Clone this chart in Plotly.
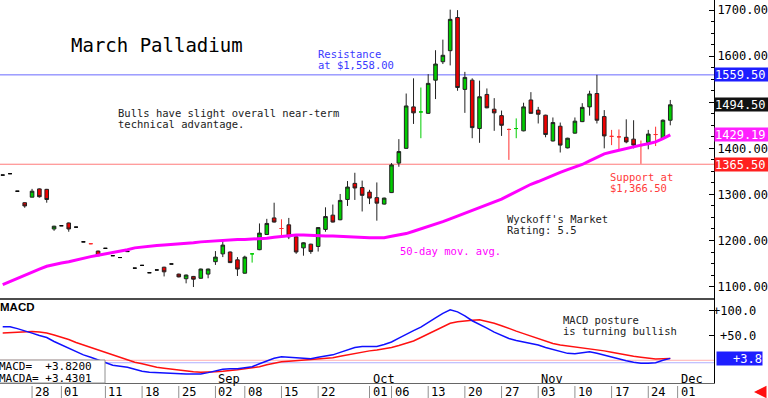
import plotly.graph_objects as go

# ---------------- data ----------------
day_idx = list(range(92))

opens = [1342, 1345, 1307, 1282, 1294, 1312, 1311, 1225, 1232, 1238,
         1229, 1197, 1193, 1177, 1183, 1167, 1163, 1176, 1140, 1146,
         1130, 1136, 1142, 1149, 1127, 1117, 1122, 1118, 1127, 1154,
         1171, 1175, 1158, 1129, 1171, 1180, 1213, 1249, 1226, 1234,
         1208, 1184, 1192, 1187, 1224, 1255, 1245, 1289, 1324, 1315,
         1305, 1293, 1279, 1304, 1368, 1400, 1490, 1479, 1476, 1548,
         1588, 1612, 1684, 1528, 1548, 1443, 1517, 1485, 1471, 1441,
         1443, 1438, 1505, 1483, 1472, 1416, 1448, 1401, 1433, 1458,
         1490, 1519, 1469, 1426, 1425, 1424, 1420, 1406, 1413, 1430,
         1422, 1461]
highs = [1342, 1345, 1307, 1283, 1312, 1313, 1312, 1232, 1232, 1239,
         1229, 1197, 1194, 1178, 1183, 1167, 1163, 1176, 1140, 1146,
         1130, 1136, 1143, 1149, 1128, 1126, 1123, 1139, 1139, 1177,
         1200, 1176, 1164, 1167, 1172, 1237, 1247, 1282, 1246, 1249,
         1209, 1196, 1193, 1229, 1272, 1278, 1301, 1329, 1347, 1330,
         1310, 1326, 1293, 1368, 1420, 1519, 1552, 1532, 1561, 1613,
         1636, 1701, 1700, 1566, 1552, 1547, 1530, 1509, 1482, 1443,
         1465, 1499, 1522, 1490, 1473, 1467, 1456, 1423, 1467, 1498,
         1525, 1559.5, 1483, 1440, 1441, 1463, 1461, 1417, 1440, 1447,
         1463, 1505]
lows = [1342, 1345, 1307, 1271, 1294, 1293, 1282, 1221, 1232, 1219,
        1229, 1197, 1192, 1166, 1183, 1167, 1163, 1176, 1140, 1146,
        1130, 1136, 1122, 1149, 1120, 1107, 1099, 1117, 1118, 1147,
        1164, 1151, 1123, 1128, 1152, 1179, 1212, 1239, 1207, 1203,
        1171, 1167, 1171, 1176, 1219, 1239, 1244, 1275, 1288, 1263,
        1279, 1243, 1278, 1303, 1360, 1399, 1453, 1422, 1475, 1507,
        1583, 1580, 1525, 1477, 1422, 1412, 1487, 1438, 1427, 1375,
        1422, 1437, 1475, 1454, 1424, 1415, 1391, 1400, 1432, 1457,
        1471, 1454, 1400, 1407, 1394, 1411, 1400, 1366.5, 1398, 1405,
        1420, 1450]
closes = [1342, 1345, 1307, 1275, 1307, 1295, 1289, 1231, 1232, 1225,
          1229, 1197, 1193, 1167, 1183, 1167, 1163, 1176, 1140, 1146,
          1130, 1136, 1132, 1149, 1121, 1125, 1116, 1138, 1138, 1164,
          1190, 1152, 1138, 1164, 1171, 1216, 1237, 1240, 1226, 1208,
          1175, 1195, 1176, 1228, 1252, 1240, 1287, 1316, 1314, 1298,
          1292, 1281, 1292, 1364, 1393, 1492, 1477, 1479, 1541, 1583,
          1602, 1680, 1532, 1554, 1445, 1512, 1488, 1477, 1450, 1441,
          1443, 1490, 1476, 1474, 1430, 1456, 1407, 1422, 1459, 1489,
          1518, 1461, 1427, 1426, 1425, 1414, 1407, 1406, 1431, 1430,
          1461, 1494.5]

ma50 = [1104, 1111, 1118, 1124, 1131, 1138, 1144, 1148, 1151, 1154,
        1158, 1161, 1165, 1168, 1171, 1173, 1176, 1180, 1184, 1186,
        1188, 1189, 1190, 1191, 1193, 1194, 1195, 1197, 1198, 1200,
        1201, 1201, 1202, 1202, 1203, 1203, 1205, 1207, 1209, 1211,
        1212, 1212, 1211, 1211, 1210, 1210, 1209, 1209, 1208, 1207,
        1206, 1206, 1206, 1209, 1212, 1215, 1220, 1225, 1230, 1236,
        1241, 1247, 1253, 1260, 1266, 1272, 1278, 1284, 1290, 1298,
        1306, 1314, 1322, 1328, 1335, 1341, 1348, 1354, 1359, 1365,
        1373, 1380, 1388, 1392, 1396, 1400, 1403, 1407, 1410, 1414,
        1421, 1429.19]

macd = [68, 68, 64, 60, 55, 50, 46, 38, 31, 24,
        17, 11, 6, 1, -5, -10, -12, -14, -18, -22,
        -24, -25, -26, -27, -28, -28, -28, -28, -25, -21,
        -18, -17, -17, -15, -13, -7, -1, 4, 7, 6,
        5, 3, 3, 6, 9, 11, 16, 21, 26, 28,
        28, 28, 32, 37, 45, 53, 60, 67, 77, 86,
        95, 102, 98, 90, 80, 73, 65, 57, 50, 44,
        40, 37, 34, 31, 26, 22, 17, 14, 13, 15,
        17, 14, 10, 6, 2, -1, -4, -6, -6, -5,
        0, 3.82]
macd_signal = [55, 56, 57, 58, 58, 57, 55, 51, 47, 42,
               36, 31, 26, 21, 16, 11, 6, 1, -4, -7,
               -11, -14, -16, -18, -20, -21, -23, -24, -24, -23,
               -22, -21, -19, -17, -15, -13, -9, -6, -3, -2,
               -1, 0, 1, 2, 4, 5, 8, 11, 14, 17,
               19, 21, 23, 26, 30, 34, 39, 46, 53, 60,
               68, 75, 78, 80, 81, 82, 79, 75, 70, 64,
               59, 54, 49, 44, 39, 34, 31, 29, 27, 25,
               24, 22, 19, 16, 13, 10, 8, 6, 4, 2.5,
               3, 3.4301]

resistance = 1559.50
support = 1365.50

price_ticks = [1100, 1200, 1300, 1400, 1500, 1600, 1700]
date_tick_idx = [4, 8, 14, 19, 24, 29, 33, 38, 43, 50, 53, 58, 63, 68, 73, 78, 83, 88, 92]
date_tick_lbl = ["28", "01", "11", "18", "25", "02", "08", "15", "22", "01",
                 "06", "13", "20", "27", "03", "10", "17", "24", "01"]
month_idx = [29, 50, 73, 92]
month_lbl = ["Sep", "Oct", "Nov", "Dec"]

# ---------------- layout constants ----------------
W, H = 768, 398
PLOT_R = 714            # right edge of plot area (px)
SEP_Y = 299             # separator between price and MACD panels (px)
MACD_BOT = 383          # bottom of MACD panel (px)
MONO = "DejaVu Sans Mono"
GREEN, RED = "#00cc00", "#ee0000"


def px_x(p):
    return p / W


def px_y(p):
    return 1 - p / H


xr = [-0.37, 96.96]

# ---------------- split candles ----------------
groups = {"main": [], "flat": [], "up": [], "down": []}
prev_dir = True
for i in day_idx:
    o, h, l, c = opens[i], highs[i], lows[i], closes[i]
    if h == l:
        groups["flat"].append(i)
        continue
    if o == c:
        pc = closes[i - 1] if i > 0 else c
        if c != pc:
            prev_dir = c > pc
        groups["up" if prev_dir else "down"].append(i)
    else:
        prev_dir = c > o
        groups["main"].append(i)


def candle(ids, inc_fill, dec_fill, inc_line, dec_line):
    return go.Candlestick(
        x=ids,
        open=[opens[i] for i in ids], high=[highs[i] for i in ids],
        low=[lows[i] for i in ids], close=[closes[i] for i in ids],
        increasing=dict(fillcolor=inc_fill, line=dict(color=inc_line, width=1)),
        decreasing=dict(fillcolor=dec_fill, line=dict(color=dec_line, width=1)),
        whiskerwidth=0, showlegend=False, hoverinfo="skip",
        xaxis="x", yaxis="y")


fig = go.Figure()
fig.add_trace(candle(groups["main"], GREEN, RED, "#222222", "#222222"))
fig.add_trace(candle(groups["flat"], "#000000", "#000000", "#000000", "#000000"))
fig.add_trace(candle(groups["up"], GREEN, GREEN, GREEN, GREEN))
fig.add_trace(candle(groups["down"], RED, RED, "#ff3030", "#ff3030"))

fig.add_trace(go.Scatter(x=day_idx, y=ma50, mode="lines",
                         line=dict(color="#ff00ff", width=3),
                         showlegend=False, hoverinfo="skip", xaxis="x", yaxis="y"))

fig.add_trace(go.Scatter(x=day_idx, y=macd_signal, mode="lines",
                         line=dict(color="#ff1010", width=1.5),
                         showlegend=False, hoverinfo="skip", xaxis="x2", yaxis="y2"))
fig.add_trace(go.Scatter(x=day_idx, y=macd, mode="lines",
                         line=dict(color="#1010ff", width=1.5),
                         showlegend=False, hoverinfo="skip", xaxis="x2", yaxis="y2"))

shapes = [
    dict(type="line", xref="paper", yref="y", x0=0, x1=px_x(PLOT_R), y0=resistance, y1=resistance,
         line=dict(color="#6a6aff", width=1), layer="below"),
    dict(type="line", xref="paper", yref="y", x0=0, x1=px_x(PLOT_R), y0=support, y1=support,
         line=dict(color="#ff7a7a", width=1), layer="below"),
    dict(type="line", xref="paper", yref="y2", x0=0, x1=px_x(PLOT_R), y0=0, y1=0,
         line=dict(color="#ffb0b0", width=1), layer="below"),
    dict(type="line", xref="paper", yref="y2", x0=0, x1=px_x(PLOT_R), y0=-5, y1=-5,
         line=dict(color="#b0b0ff", width=1), layer="below"),
    dict(type="line", xref="paper", yref="paper", x0=0, x1=px_x(PLOT_R),
         y0=px_y(SEP_Y), y1=px_y(SEP_Y), line=dict(color="#111111", width=1.5)),
    dict(type="rect", xref="paper", yref="paper", x0=-0.003, x1=px_x(105),
         y0=px_y(MACD_BOT), y1=px_y(360), fillcolor="white",
         line=dict(color="#909090", width=1), layer="above"),
]
for t in date_tick_idx:
    shapes.append(dict(type="line", xref="x2", yref="paper", x0=t, x1=t,
                       y0=0, y1=px_y(386), line=dict(color="#909090", width=1)))

ann = []


def txt(x, y, s, size=10.5, color="black", xa="left", ya="middle", xref="paper", yref="paper", **kw):
    ann.append(dict(x=x, y=y, xref=xref, yref=yref, text=s, showarrow=False,
                    xanchor=xa, yanchor=ya, font=dict(family=MONO, size=size, color=color), **kw))


txt(px_x(69), px_y(45), "March Palladium", size=19)
txt(px_x(316), px_y(54), "Resistance", color="#3a3aff")
txt(px_x(316), px_y(64.5), "at $1,558.00", color="#3a3aff")
txt(px_x(116), px_y(113), "Bulls have slight overall near-term", color="#222222")
txt(px_x(116), px_y(124), "technical advantage.", color="#222222")
txt(px_x(608), px_y(176.5), "Support at", color="#ff3a3a")
txt(px_x(608), px_y(187.5), "$1,366.50", color="#ff3a3a")
txt(px_x(505), px_y(219), "Wyckoff's Market", color="#222222")
txt(px_x(505), px_y(229.5), "Rating: 5.5", color="#222222")
txt(px_x(398), px_y(251), "50-day mov. avg.", color="#ff00ff")
txt(px_x(561), px_y(320), "MACD posture", color="#222222")
txt(px_x(561), px_y(331), "is turning bullish", color="#222222")
ann.append(dict(x=0, y=px_y(307), xref="paper", yref="paper", text="<b>MACD</b>", showarrow=False,
                xanchor="left", yanchor="middle", xshift=-2,
                font=dict(family="Liberation Sans", size=11.5, color="black")))
txt(0, px_y(366), "MACD=\u00a0\u00a0+%.4f" % macd[-1], size=11, xshift=-3)
txt(0, px_y(378), "MACDA=\u00a0+%.4f" % macd_signal[-1], size=11, xshift=-3)

for t, s in zip(date_tick_idx, date_tick_lbl):
    txt(t, px_y(392), s, size=12, xref="x2", xshift=1)
for t, s in zip(month_idx, month_lbl):
    txt(t, px_y(379), s, size=12, xref="x2", xshift=1)

# right-side value boxes
value_boxes = [(resistance, "#1e1eff"), (closes[-1], "#111111"),
               (ma50[-1], "#ff20ff"), (support, "#ff2020")]
for val, bg in value_boxes:
    ann.append(dict(x=px_x(PLOT_R), y=val, xref="paper", yref="y", text="%.2f" % val,
                    showarrow=False, xanchor="left", yanchor="middle", align="left",
                    bgcolor=bg, borderpad=0, width=54, height=13,
                    font=dict(family=MONO, size=12, color="white")))
ann.append(dict(x=px_x(716), y=macd[-1], xref="paper", yref="y2", text="+%.1f" % macd[-1],
                showarrow=False, xanchor="left", yanchor="middle", align="right",
                bgcolor="#1e1eff", borderpad=0, width=45, height=13,
                font=dict(family=MONO, size=12, color="white")))
for v in [100, 50]:
    txt(px_x(758), v, "+%.1f" % v, size=12, xa="right", yref="y2")

# red arrow bottom-right
ann.append(dict(x=px_x(754), y=px_y(392), xref="paper", yref="paper", text="",
                showarrow=True, arrowhead=2, arrowsize=1, arrowwidth=2.5,
                arrowcolor="#ff1010", ax=11, ay=0))

# price tick labels hidden where a value box covers them
covered = [v for v, _ in value_boxes]
price_text = ["" if any(abs(t - c) < 12 for c in covered) else "%.2f" % t for t in price_ticks]

fig.update_layout(
    width=W, height=H, margin=dict(l=0, r=0, t=0, b=0),
    paper_bgcolor="white", plot_bgcolor="white", showlegend=False,
    xaxis=dict(domain=[0, px_x(PLOT_R)], range=xr, visible=False,
               rangeslider=dict(visible=False), anchor="y"),
    xaxis2=dict(domain=[0, px_x(PLOT_R)], range=xr, anchor="y2", showticklabels=False,
                ticks="", showgrid=False, zeroline=False, showline=True,
                linecolor="#666666", linewidth=1, rangeslider=dict(visible=False)),
    yaxis=dict(domain=[px_y(SEP_Y), 1], range=[1073, 1722], side="right", anchor="x",
               tickvals=price_ticks, ticktext=price_text,
               ticks="inside", ticklen=5, tickcolor="black", showgrid=False, zeroline=False,
               showline=True, linecolor="black", linewidth=1,
               minor=dict(dtick=25, tick0=1100, ticks="inside", ticklen=3, tickcolor="black"),
               tickfont=dict(family=MONO, size=12, color="black")),
    yaxis2=dict(domain=[px_y(MACD_BOT), px_y(SEP_Y)], range=[-46, 124], side="right",
                anchor="x2", tickvals=[50, 100], showticklabels=False, ticks="inside",
                ticklen=5, tickcolor="black", showgrid=False, zeroline=False,
                showline=True, linecolor="black", linewidth=1),
    shapes=shapes, annotations=ann,
)

fig.write_html("out.html", config={"displayModeBar": False},
               post_script="document.body.style.margin='0';document.body.style.overflow='hidden';")
